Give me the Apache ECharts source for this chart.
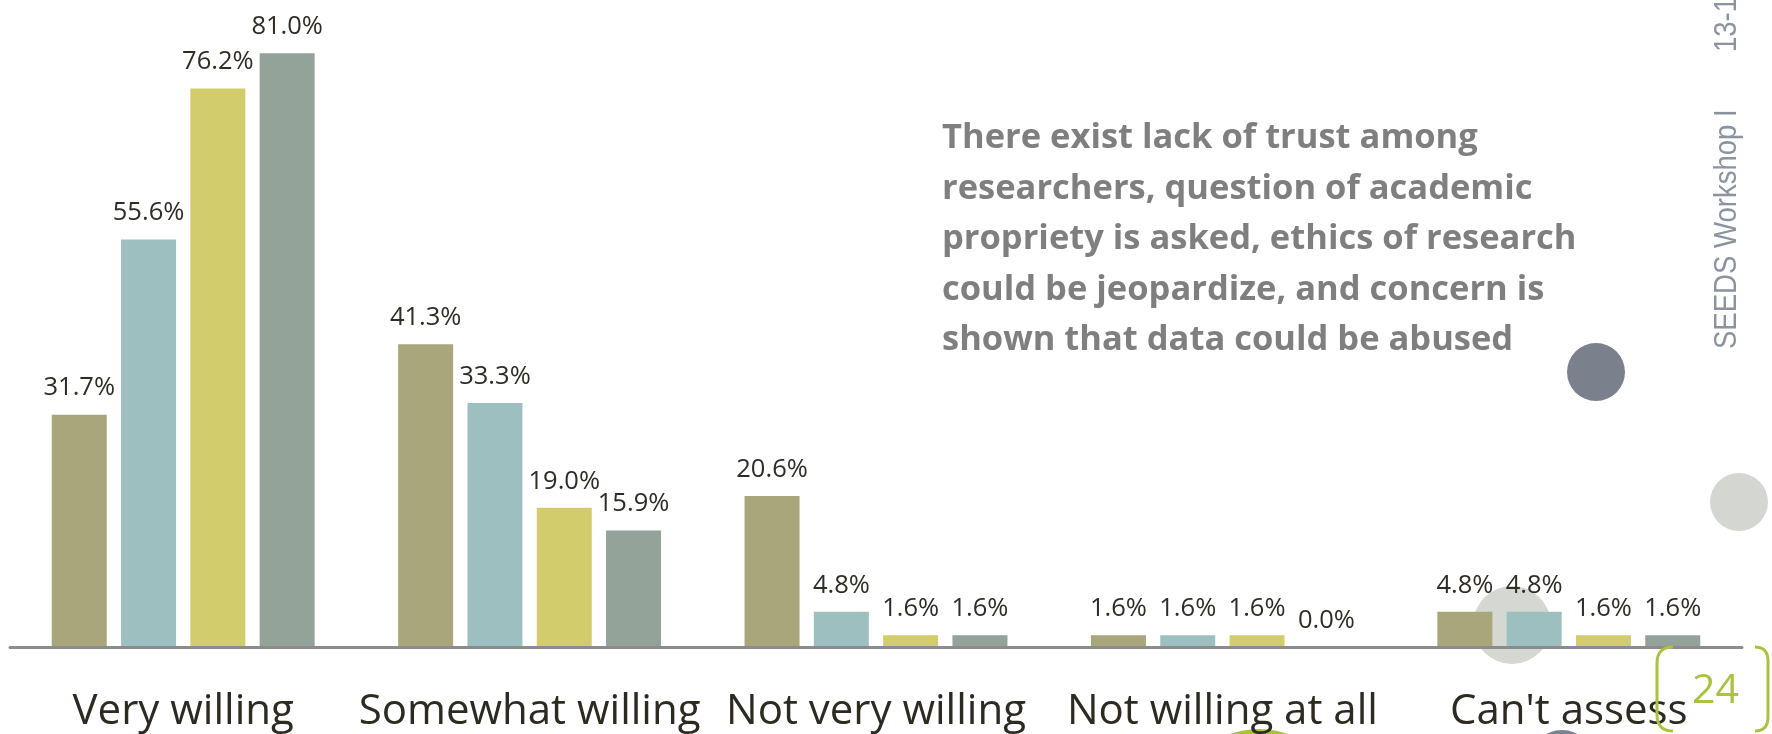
<!DOCTYPE html>
<html>
<head>
<meta charset="utf-8">
<title>Willingness</title>
<script src="https://cdn.jsdelivr.net/npm/echarts@6/dist/echarts.min.js"></script>
<style>
  html, body { margin: 0; padding: 0; background: #fff; }
  #chart { width: 1772px; height: 734px; }
</style>
</head>
<body>
<div id="chart"></div>
<script>
// categories on the x axis
const categories = ['Very willing', 'Somewhat willing', 'Not very willing', 'Not willing at all', "Can't assess"]

// four groups of respondents, values in %
const series1 = [31.7, 41.3, 20.6, 1.6, 4.8]
const series2 = [55.6, 33.3, 4.8, 1.6, 4.8]
const series3 = [76.2, 19.0, 1.6, 1.6, 1.6]
const series4 = [81.0, 15.9, 1.6, 0.0, 1.6]

const seriesNames = ['Group 1', 'Group 2', 'Group 3', 'Group 4']
const seriesColors = ['#a9a67c', '#9ebfbf', '#d3cc6d', '#94a39a']

// callout text on the slide
const noteLines = [
  'There exist lack of trust among',
  'researchers, question of academic',
  'propriety is asked, ethics of research',
  'could be jeopardize, and concern is',
  'shown that data could be abused'
]
const footerText = 'SEEDS Workshop I'
const dateText = '13-15'
const pageNumber = '24'

const chart = echarts.init(document.getElementById('chart'))

const allData = [series1, series2, series3, series4]

// rounded bracket outline: sample the two corners as quadratic curves
function bracket(xEdge, xEnd, yTop, yBottom, r) {
  const pts = []
  const steps = 8
  for (let i = 0; i <= steps; i++) {
    const t = i / steps
    const x = (1 - t) * (1 - t) * xEnd + 2 * (1 - t) * t * xEdge + t * t * xEdge
    const y = (1 - t) * (1 - t) * yTop + 2 * (1 - t) * t * yTop + t * t * (yTop + r)
    pts.push([x, y])
  }
  for (let i = 0; i <= steps; i++) {
    const t = i / steps
    const x = (1 - t) * (1 - t) * xEdge + 2 * (1 - t) * t * xEdge + t * t * xEnd
    const y = (1 - t) * (1 - t) * (yBottom - r) + 2 * (1 - t) * t * yBottom + t * t * yBottom
    pts.push([x, y])
  }
  return pts
}

const series = allData.map((data, i) => ({
  name: seriesNames[i],
  type: 'bar',
  data: data,
  barWidth: 55,
  barGap: '26%',
  itemStyle: { color: seriesColors[i] },
  label: {
    show: true,
    position: 'top',
    distance: 14,
    fontFamily: 'Open Sans',
    fontSize: 25.5,
    lineHeight: 25,
    color: '#2f2c24',
    formatter: p => p.value.toFixed(1) + '%'
  },
  z: 3
}))

const option = {
  animation: false,
  grid: { left: 10, right: 30, top: 2, bottom: 87 },
  xAxis: {
    type: 'category',
    data: categories,
    axisLine: { lineStyle: { color: '#8c8c8c', width: 3 } },
    axisTick: { show: false },
    axisLabel: {
      interval: 0,
      margin: 44,
      fontFamily: 'Open Sans',
      fontSize: 42,
      lineHeight: 42,
      color: '#2d2a22'
    },
    z: 4
  },
  yAxis: {
    type: 'value',
    min: 0,
    max: 88,
    show: false,
    splitLine: { show: false }
  },
  series,
  graphic: [
    // decorative circles
    { type: 'circle', z: 0, shape: { cx: 1512, cy: 625, r: 39 }, style: { fill: '#d5d7d2' } },
    { type: 'circle', z: 0, shape: { cx: 1596, cy: 372, r: 29 }, style: { fill: '#7a818d' } },
    { type: 'circle', z: 0, shape: { cx: 1739, cy: 502, r: 29 }, style: { fill: '#d4d6d2' } },
    { type: 'circle', z: 0, shape: { cx: 1259, cy: 816, r: 87 }, style: { fill: '#a9c23a' } },
    { type: 'circle', z: 0, shape: { cx: 1562, cy: 762, r: 32 }, style: { fill: '#7b8290' } },
    // callout
    {
      type: 'text',
      z: 5,
      x: 942,
      y: 113,
      style: {
        text: noteLines.join('\n'),
        fontFamily: 'Open Sans',
        fontWeight: 'bold',
        fontSize: 34.5,
        lineHeight: 50.5,
        fill: '#7f7f7f',
        align: 'left',
        verticalAlign: 'top'
      }
    },
    // vertical footer
    {
      type: 'text',
      z: 5,
      x: 1727,
      y: 349,
      rotation: Math.PI / 2,
      scaleX: 0.86,
      style: {
        text: footerText,
        fontFamily: 'Liberation Sans',
        fontSize: 32,
        fill: '#8a939e',
        align: 'left',
        verticalAlign: 'middle'
      }
    },
    {
      type: 'text',
      z: 5,
      x: 1727,
      y: 52,
      rotation: Math.PI / 2,
      scaleX: 0.86,
      style: {
        text: dateText,
        fontFamily: 'Liberation Sans',
        fontSize: 32,
        fill: '#8a939e',
        align: 'left',
        verticalAlign: 'middle'
      }
    },
    // page number with brackets
    {
      type: 'polyline',
      z: 6,
      shape: { points: bracket(1657, 1673, 647, 731, 16) },
      style: { fill: null, stroke: '#a9c23f', lineWidth: 3 }
    },
    {
      type: 'polyline',
      z: 6,
      shape: { points: bracket(1768, 1755, 647, 731, 14) },
      style: { fill: null, stroke: '#a9c23f', lineWidth: 3 }
    },
    {
      type: 'text',
      z: 6,
      x: 1692,
      y: 691,
      style: {
        text: pageNumber,
        fontFamily: 'Open Sans',
        fontSize: 41,
        fill: '#a9c23f',
        align: 'left',
        verticalAlign: 'middle'
      }
    }
  ]
}

chart.setOption(option)
</script>
</body>
</html>
